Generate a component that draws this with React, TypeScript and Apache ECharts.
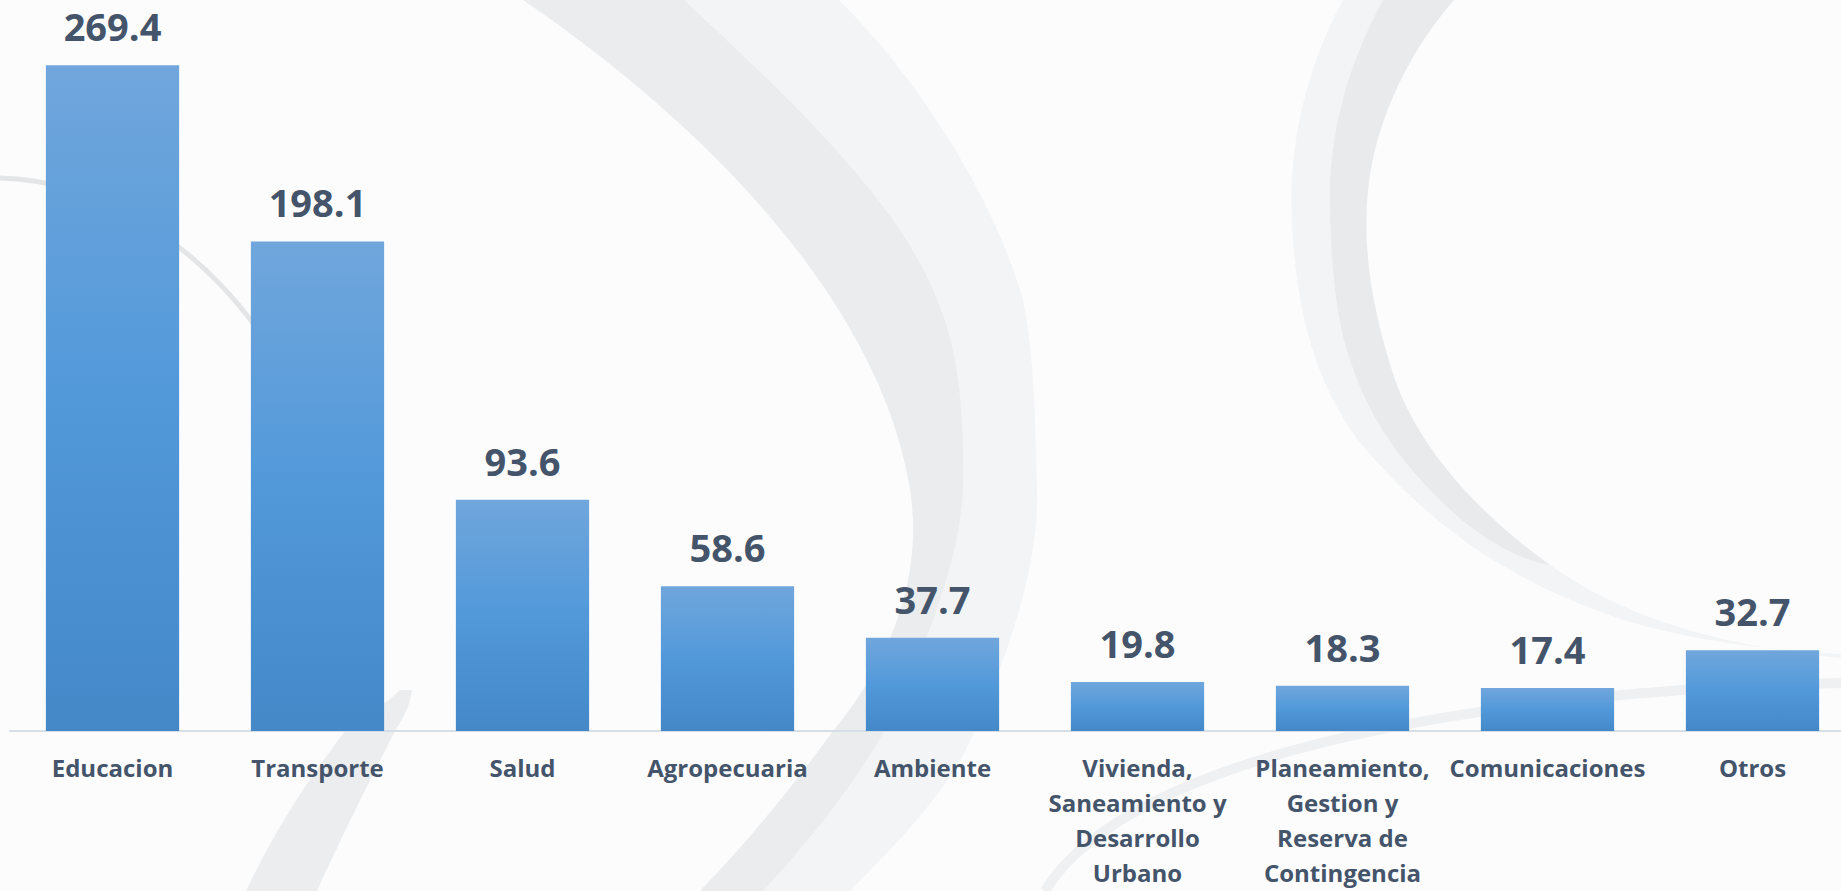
import React, { useEffect, useRef } from "react";
import * as echarts from "echarts";

const categories: string[] = [
  "Educacion",
  "Transporte",
  "Salud",
  "Agropecuaria",
  "Ambiente",
  "Vivienda,\nSaneamiento y\nDesarrollo\nUrbano",
  "Planeamiento,\nGestion y\nReserva de\nContingencia",
  "Comunicaciones",
  "Otros",
];
const values: number[] = [269.4, 198.1, 93.6, 58.6, 37.7, 19.8, 18.3, 17.4, 32.7];

const TEXT = "#44546A";
const FONT = "'Open Sans', 'Noto Sans', sans-serif";

// decorative background swooshes (SVG path data)
const leftEdgeA = "M523 0 C700 120 880 300 910 489 C925 583 885 670 830 735 C790 790 745 845 700 891 ";
const swooshA =
  leftEdgeA +
  "L850 891 C900 840 950 790 975 730 C1010 650 1040 560 1037 489 C1035 420 1035 360 1023 300 C995 200 920 80 839 0 Z";
const swooshACore =
  leftEdgeA +
  "L763 891 C810 840 850 790 885 730 C925 650 960 560 963 489 C965 400 955 340 937 300 C900 200 780 90 684 0 Z";
const swooshB =
  "M400 690 C385 705 365 715 345 731 C300 790 270 840 246 891 L317 891 C340 840 365 790 395 731 C405 715 410 705 412 690 Z";
const swooshC =
  "M1343 0 C1305 70 1288 150 1292 220 C1296 320 1320 400 1375 460 C1430 520 1500 580 1630 622 C1700 642 1770 650 1841 654 " +
  "L1841 658 C1760 650 1640 630 1550 565 C1480 515 1420 450 1395 380 C1372 310 1362 250 1368 190 C1375 120 1410 50 1454 0 Z";
const swooshCCore =
  "M1383 0 C1345 70 1328 140 1330 210 C1332 290 1340 330 1350 360 C1370 420 1400 460 1440 500 C1480 540 1520 560 1550 565 " +
  "C1480 515 1420 450 1395 380 C1372 310 1362 250 1368 190 C1375 120 1410 50 1454 0 Z";

echarts.graphic.registerShape("swooshA", echarts.graphic.extendPath(swooshA, {}) as any);
echarts.graphic.registerShape("swooshACore", echarts.graphic.extendPath(swooshACore, {}) as any);
echarts.graphic.registerShape("swooshB", echarts.graphic.extendPath(swooshB, {}) as any);
echarts.graphic.registerShape("swooshC", echarts.graphic.extendPath(swooshC, {}) as any);
echarts.graphic.registerShape("swooshCCore", echarts.graphic.extendPath(swooshCCore, {}) as any);

export default function App() {
  const ref = useRef<HTMLDivElement>(null);
  useEffect(() => {
    if (!ref.current) return;
    const chart = echarts.init(ref.current, undefined, { renderer: "svg" });
    chart.setOption({
      animation: false,
      backgroundColor: "#FCFCFD",
      graphic: {
        elements: [
          { type: "swooshA", x: 0, y: 0, z: -10, silent: true, style: { fill: "#F3F4F5" } },
          { type: "swooshACore", x: 0, y: 0, z: -9, silent: true, style: { fill: "#EBECED" } },
          { type: "swooshB", x: 0, y: 0, z: -10, silent: true, style: { fill: "#ECEDEE" } },
          { type: "swooshC", x: 0, y: 0, z: -10, silent: true, style: { fill: "#F3F4F5" } },
          { type: "swooshCCore", x: 0, y: 0, z: -9, silent: true, style: { fill: "#E9EAEC" } },
          {
            type: "bezierCurve",
            z: -9,
            silent: true,
            shape: { x1: 0, y1: 178, cpx1: 90, cpy1: 180, cpx2: 190, cpy2: 235, x2: 258, y2: 330 },
            style: { stroke: "#E4E5E6", lineWidth: 5, fill: "none" },
          },
          {
            type: "bezierCurve",
            z: -9,
            silent: true,
            shape: { x1: 1841, y1: 683, cpx1: 1500, cpy1: 690, cpx2: 1130, cpy2: 750, x2: 1045, y2: 891 },
            style: { stroke: "#EFF0F1", lineWidth: 10, fill: "none" },
          },
        ],
      },
      grid: { left: 10, width: 1845, top: 39, bottom: 160, outerBoundsMode: "none", containLabel: false },
      xAxis: {
        type: "category",
        data: categories,
        axisLine: { show: true, lineStyle: { color: "#D8DEE6", width: 2 } },
        axisTick: { show: false },
        axisLabel: {
          interval: 0,
          margin: 19,
          color: TEXT,
          fontFamily: FONT,
          fontWeight: "bold",
          fontSize: 24,
          lineHeight: 35,
        },
      },
      yAxis: {
        type: "value",
        min: 0,
        max: 280,
        show: false,
        splitLine: { show: false },
      },
      series: [
        {
          type: "bar",
          data: values,
          barCategoryGap: "35%",
          itemStyle: {
            color: new echarts.graphic.LinearGradient(0, 0, 0, 1, [
              { offset: 0, color: "#70A6DC" },
              { offset: 0.5, color: "#5299DA" },
              { offset: 1, color: "#4488C8" },
            ]),
          },
          label: {
            show: true,
            position: "top",
            distance: 19,
            color: TEXT,
            fontFamily: FONT,
            fontWeight: "bold",
            fontSize: 38,
            lineHeight: 40,
            formatter: (p: any) => Number(p.value).toFixed(1),
          },
        },
      ],
    });
    return () => chart.dispose();
  }, []);
  return (
    <div
      ref={ref}
      style={{ position: "fixed", left: 0, top: 0, width: 1841, height: 891 }}
    />
  );
}
